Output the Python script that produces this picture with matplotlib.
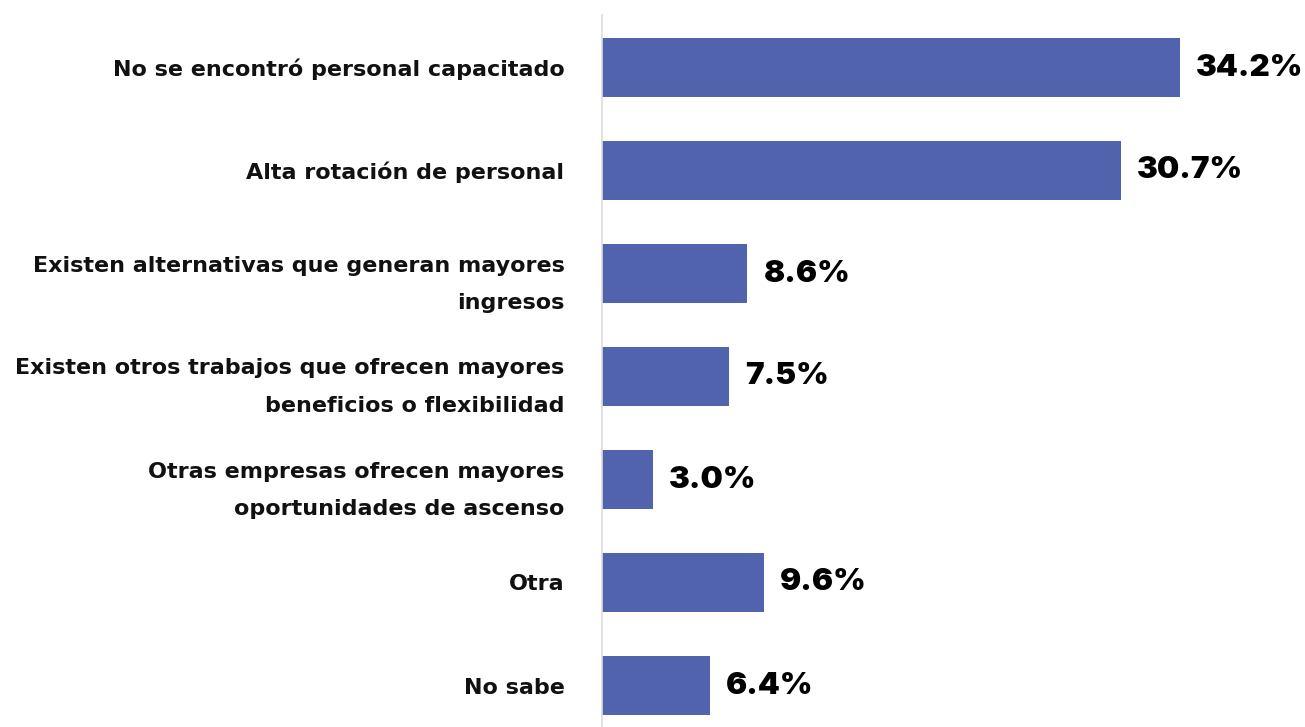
import matplotlib
matplotlib.use("Agg")
import matplotlib.pyplot as plt

# Datos
categorias = [
    "No se encontró personal capacitado",
    "Alta rotación de personal",
    "Existen alternativas que generan mayores\ningresos",
    "Existen otros trabajos que ofrecen mayores\nbeneficios o flexibilidad",
    "Otras empresas ofrecen mayores\noportunidades de ascenso",
    "Otra",
    "No sabe",
]
valores = [34.2, 30.7, 8.6, 7.5, 3.0, 9.6, 6.4]
etiquetas = [f"{v:.1f}%" for v in valores]

color_barra = "#5163AD"

fig = plt.figure(figsize=(13.05, 7.27), dpi=100)
ax = fig.add_axes([602 / 1305, 0, 1 - 602 / 1305, 1 - 15 / 727])

pos = list(range(len(categorias)))
ax.barh(pos, valores, height=0.57, color=color_barra)

ax.set_xlim(0, (1305 - 602) / 16.9)
ax.set_ylim(6 + (727 - 685.5) / 103, -(67.5 - 15) / 103)

# Etiquetas de categorías
ax.set_yticks(pos)
ax.set_yticklabels(categorias, fontsize=16, fontweight="bold", family="DejaVu Sans",
                   linespacing=2.1, color="#111111")
ax.tick_params(axis="y", length=0, pad=27)
ax.set_xticks([])

# Valores
for y, v, t in zip(pos, valores, etiquetas):
    ax.text(v + 0.95, y, t, va="center", ha="left", fontsize=22.5,
            fontweight="black", family="Inter", color="black")

for s in ["top", "right", "bottom"]:
    ax.spines[s].set_visible(False)
ax.spines["left"].set_color("#dddddd")
ax.spines["left"].set_linewidth(1.2)

fig.savefig("out.png", dpi=100)
